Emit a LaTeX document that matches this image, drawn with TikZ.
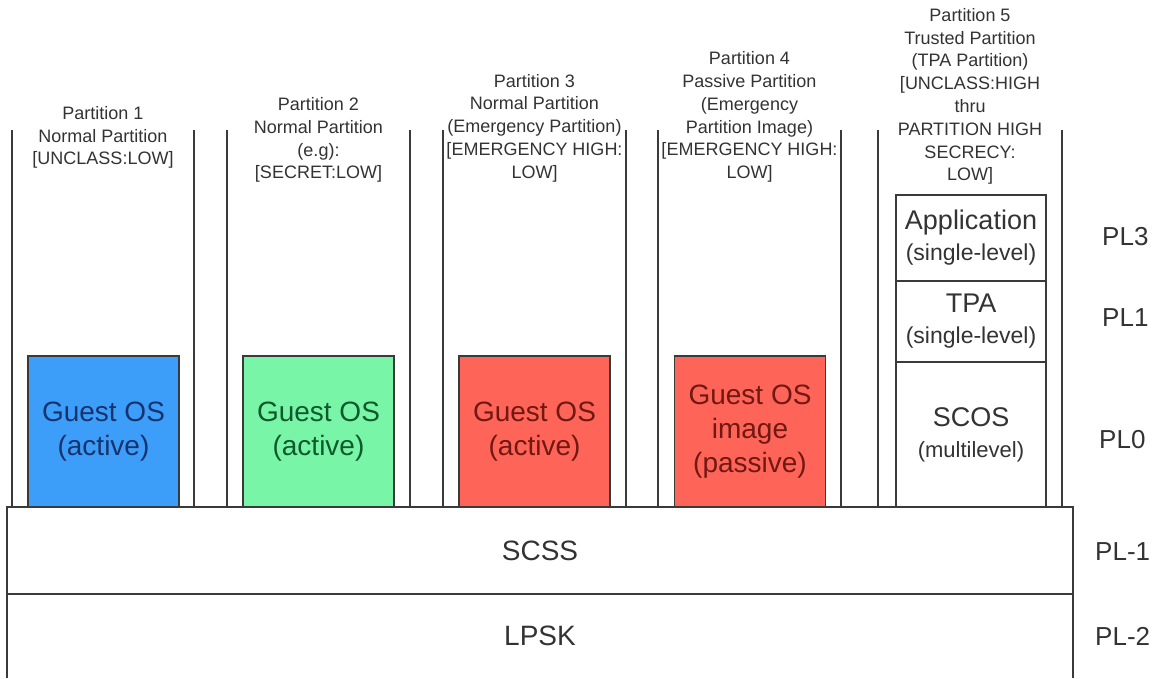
\documentclass[tikz,border=0pt]{standalone}
\usepackage{fontspec}
\setmainfont{Liberation Sans}
\usepackage{xcolor}
\definecolor{cLine}{HTML}{3A3A3A}
\definecolor{cText}{HTML}{333333}
\definecolor{cBlue}{HTML}{3D9EFA}
\definecolor{cBlueTxt}{HTML}{17336E}
\definecolor{cGreen}{HTML}{78F5A6}
\definecolor{cGreenTxt}{HTML}{0E5A2C}
\definecolor{cRed}{HTML}{FF6459}
\definecolor{cRedTxt}{HTML}{701812}
\usetikzlibrary{positioning}
\tikzset{
  part-line/.style={draw=cLine,line width=1.3pt},
  part-label/.style={align=center,text=cText,inner sep=0pt,
    font=\fontsize{18}{22.8}\selectfont},
  os-box/.style={draw=cLine,line width=1.3pt,minimum width=151pt,
    minimum height=151pt,inner sep=0pt,align=center,
    font=\fontsize{28}{34}\selectfont},
  tp-box/.style={draw=cLine,line width=1.3pt,minimum width=150pt,outer sep=0pt,
    inner sep=0pt,align=center,text=cText,font=\fontsize{27}{31}\selectfont},
  layer-box/.style={draw=cLine,line width=1.3pt,minimum width=1066pt,outer sep=0pt,
    inner sep=0pt,text=cText,font=\fontsize{28}{32}\selectfont},
  pl-label/.style={anchor=west,inner sep=0pt,text=cText,
    font=\fontsize{26}{30}\selectfont},
}

\begin{document}
\begin{tikzpicture}[x=1pt,y=-1pt]
  \clip (0,0) rectangle (1159,678);
  \fill[white] (0,0) rectangle (1159,678);

  % partition walls
  \foreach \xl/\xr in {12/194,227/410,443/626,658/841,878/1062}{
    \draw[part-line] (\xl,130) -- (\xl,507);
    \draw[part-line] (\xr,130) -- (\xr,507);
  }

  % partition headings
  \node[part-label] (p1) at (103,137.5)
    {Partition 1\\Normal Partition\\{[}UNCLASS:LOW]};
  \node[part-label] (p2) at (318.5,140)
    {Partition 2\\Normal Partition\\(e.g):\\{[}SECRET:LOW]};
  \node[part-label] (p3) at (534.5,128)
    {Partition 3\\Normal Partition\\(Emergency Partition)\\{[}EMERGENCY HIGH:\\LOW]};
  \node[part-label] (p4) at (749.5,117)
    {Partition 4\\Passive Partition\\(Emergency\\Partition Image)\\{[}EMERGENCY HIGH:\\LOW]};
  \node[part-label] (p5) at (970,96.5)
    {Partition 5\\Trusted Partition\\(TPA Partition)\\{[}UNCLASS:HIGH\\thru\\PARTITION HIGH\\SECRECY:\\LOW]};

  % guest operating systems
  \node[os-box,fill=cBlue,text=cBlueTxt] (os1) at (103.5,431.5) {Guest OS\\(active)};
  \node[os-box,fill=cGreen,text=cGreenTxt] (os2) at (318.5,431.5) {Guest OS\\(active)};
  \node[os-box,fill=cRed,text=cRedTxt] (os3) at (534.5,431.5) {Guest OS\\(active)};
  \node[os-box,fill=cRed,text=cRedTxt] (os4) at (750,431.5) {Guest OS\\image\\(passive)};

  % trusted partition stack
  \node[tp-box,minimum height=86pt] (app) at (971,238)
    {Application\\{\fontsize{23}{27}\selectfont(single-level)}};
  \node[tp-box,minimum height=81pt,below=0pt of app] (tpa)
    {TPA\\{\fontsize{23}{27}\selectfont(single-level)}};
  \node[tp-box,minimum height=145pt,below=0pt of tpa] (scos)
    {SCOS\\{\fontsize{22}{26}\selectfont(multilevel)}};

  % separation kernel layers
  \node[layer-box,minimum height=87pt] (scss) at (540,550.5) {SCSS};
  \node[layer-box,draw=none,minimum height=84pt,below=0pt of scss] (lpsk) {LPSK};
  \draw[part-line] (lpsk.south west) -- (lpsk.north west)
    (lpsk.north east) -- (lpsk.south east);

  % privilege levels
  \node[pl-label] (pl3) at (1102,237) {PL3};
  \node[pl-label] (pl1) at (1102,318) {PL1};
  \node[pl-label] (pl0) at (1099,440) {PL0};
  \node[pl-label] (plm1) at (1095,552) {PL-1};
  \node[pl-label] (plm2) at (1095,636) {PL-2};
\end{tikzpicture}
\end{document}
